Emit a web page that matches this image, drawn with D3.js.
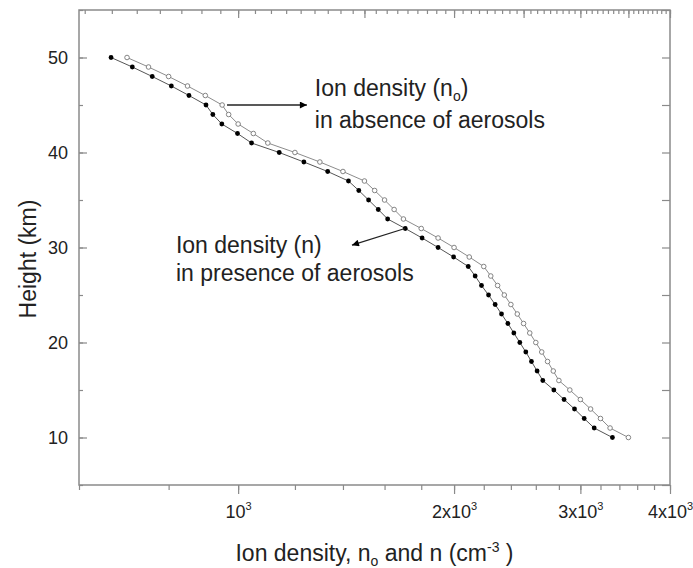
<!DOCTYPE html>
<html>
<head>
<meta charset="utf-8">
<script src="https://cdn.jsdelivr.net/npm/d3@7"></script>
<style>
body { margin:0; background:#fff; }
svg { display:block; font-family:"Liberation Sans", Arial, sans-serif; }
</style>
</head>
<body>
<div id="chart"></div>
<script>
// heights (km), one point per km
var heights = d3.range(10, 51);
// ion density without aerosols, n_o (cm^-3), h = 10..50
var nAbsent = [3500,3300,3200,3100,3000,2900,2800,2750,2700,2650,
               2600,2550,2500,2450,2400,2350,2300,2250,2200,2100,
               2000,1900,1800,1700,1650,1600,1550,1500,1400,1300,
               1200,1100,1050,1000,970,950,900,850,800,750,700];
// ion density with aerosols, n (cm^-3), h = 10..50
var nPresent = [3325,3136,3037,2944,2847,2755,2659,2611,2564,2518,
                2470,2423,2377,2329,2282,2234,2184,2140,2093,1997,
                1900,1805,1710,1616,1568,1520,1473,1425,1333,1235,
                1141,1044,998,949,922,902,854,807,759,712,665];

var xMajor = [1000, 2000, 3000, 4000];
var xLabels = [['10','3'], ['2x10','3'], ['3x10','3'], ['4x10','3']];
var xMinor = d3.range(600, 4001, 200);
var yMajor = [10, 20, 30, 40, 50];
var yMinor = d3.range(5, 56, 5);

var W = 693, H = 568;
var pl = 79, pr = 670, pt = 10, pb = 485;
var axisColor = '#8a8a8a', textColor = '#222';

var svg = d3.select('#chart').append('svg')
    .attr('width', W).attr('height', H);

var x = d3.scaleLog().domain([600, 4000]).range([pl, pr]);
var y = d3.scaleLinear().domain([5, 55]).range([pb, pt]);

// top axis ticks: majors every 500 with 8 minors between
var topTicks = [];
for (var m = 500; m < 4000; m += 500) {
    for (var k = 0; k < 9; k++) {
        var v = m + k * 500 / 9;
        if (v >= 600 && v <= 4000) topTicks.push(v);
    }
}
topTicks.push(4000);

function styleAxis(g) {
    g.select('.domain').remove();
    g.selectAll('line').attr('stroke', axisColor).attr('stroke-width', 1.2);
    g.selectAll('text').attr('fill', textColor).attr('font-size', 18)
        .attr('font-family', '"Liberation Sans", Arial, sans-serif');
}

// bottom minor
svg.append('g').attr('transform', 'translate(0,' + pb + ')')
    .call(d3.axisBottom(x).tickValues(xMinor).tickSize(5).tickFormat(''))
    .call(styleAxis);
// bottom major
var bx = svg.append('g').attr('transform', 'translate(0,' + pb + ')')
    .call(d3.axisBottom(x).tickValues(xMajor).tickSize(9).tickPadding(11).tickFormat(function() { return ''; }))
    .call(styleAxis);
bx.selectAll('.tick text').each(function(d, i) {
    var t = d3.select(this);
    t.append('tspan').text(xLabels[i][0]);
    t.append('tspan').attr('font-size', 11).attr('dy', -8).text(xLabels[i][1]);
});

// top axis
svg.append('g').attr('transform', 'translate(0,' + pt + ')')
    .call(d3.axisTop(x).tickValues(topTicks).tickSize(-4).tickFormat(''))
    .call(styleAxis);
svg.append('g').attr('transform', 'translate(0,' + pt + ')')
    .call(d3.axisTop(x).tickValues(d3.range(1000, 4001, 500)).tickSize(-8).tickFormat(''))
    .call(styleAxis);

// left axis
svg.append('g').attr('transform', 'translate(' + pl + ',0)')
    .call(d3.axisLeft(y).tickValues(yMinor).tickSize(-4).tickFormat(''))
    .call(styleAxis);
svg.append('g').attr('transform', 'translate(' + pl + ',0)')
    .call(d3.axisLeft(y).tickValues(yMajor).tickSize(-8).tickPadding(11).tickFormat(d3.format('d')))
    .call(styleAxis);

// right axis
svg.append('g').attr('transform', 'translate(' + pr + ',0)')
    .call(d3.axisRight(y).tickValues(yMinor).tickSize(-8).tickFormat(''))
    .call(styleAxis);

// frame
svg.append('rect')
    .attr('x', pl).attr('y', pt)
    .attr('width', pr - pl).attr('height', pb - pt)
    .attr('fill', 'none').attr('stroke', axisColor).attr('stroke-width', 1.5);

// series
var line = d3.line().x(function(d) { return x(d[0]); }).y(function(d) { return y(d[1]); });
var absent = nAbsent.map(function(v, i) { return [v, heights[i]]; });
var present = nPresent.map(function(v, i) { return [v, heights[i]]; });

svg.append('path').datum(absent).attr('d', line)
    .attr('fill', 'none').attr('stroke', '#8c8c8c').attr('stroke-width', 1);
svg.append('path').datum(present).attr('d', line)
    .attr('fill', 'none').attr('stroke', '#555').attr('stroke-width', 1);

svg.selectAll('.open').data(absent).enter().append('circle')
    .attr('class', 'open')
    .attr('cx', function(d) { return x(d[0]); })
    .attr('cy', function(d) { return y(d[1]); })
    .attr('r', 2.3)
    .attr('fill', '#fff').attr('stroke', '#777').attr('stroke-width', 0.9);
svg.selectAll('.filled').data(present).enter().append('circle')
    .attr('class', 'filled')
    .attr('cx', function(d) { return x(d[0]); })
    .attr('cy', function(d) { return y(d[1]); })
    .attr('r', 2.4)
    .attr('fill', '#000');

// arrows
svg.append('defs').append('marker')
    .attr('id', 'head').attr('viewBox', '0 0 10 10')
    .attr('refX', 10).attr('refY', 5)
    .attr('markerWidth', 11).attr('markerHeight', 7)
    .attr('markerUnits', 'userSpaceOnUse')
    .attr('orient', 'auto')
    .append('path').attr('d', 'M0,0L10,5L0,10Z').attr('fill', '#000');

var arrows = [[[965, 45], [1247, 45]], [[1708, 32], [1441, 30.25]]];
arrows.forEach(function(a) {
    svg.append('line')
        .attr('x1', x(a[0][0])).attr('y1', y(a[0][1]))
        .attr('x2', x(a[1][0])).attr('y2', y(a[1][1]))
        .attr('stroke', '#222').attr('stroke-width', 1.3)
        .attr('marker-end', 'url(#head)');
});

// annotations
function note(px, h, parts) {
    var t = svg.append('text')
        .attr('x', x(px)).attr('y', y(h))
        .attr('font-size', 23).attr('fill', textColor);
    parts.forEach(function(p) {
        var s = t.append('tspan').text(p[0]);
        if (p[1]) s.attr('font-size', p[1]);
        if (p[2]) s.attr('dy', p[2]);
    });
    return t;
}
note(1279, 45.9, [['Ion density (n'], ['o', 14, 5], [')', null, -5]]);
note(1279, 42.55, [['in absence of aerosols']]);
note(819, 29.4, [['Ion density (n)']]);
note(819, 26.45, [['in presence of aerosols']]);

// axis titles
var xt = svg.append('text')
    .attr('x', (pl + pr) / 2).attr('y', 561)
    .attr('text-anchor', 'middle')
    .attr('font-size', 23).attr('fill', textColor);
xt.append('tspan').text('Ion density, n');
xt.append('tspan').attr('font-size', 14).attr('dy', 5).text('o');
xt.append('tspan').attr('dy', -5).text(' and n (cm');
xt.append('tspan').attr('font-size', 14).attr('dy', -9).text('-3');
xt.append('tspan').attr('dy', 9).text(' )');

svg.append('text')
    .attr('transform', 'translate(36,' + 259 + ') rotate(-90)')
    .attr('text-anchor', 'middle')
    .attr('font-size', 23).attr('fill', textColor)
    .text('Height (km)');
</script>
</body>
</html>
